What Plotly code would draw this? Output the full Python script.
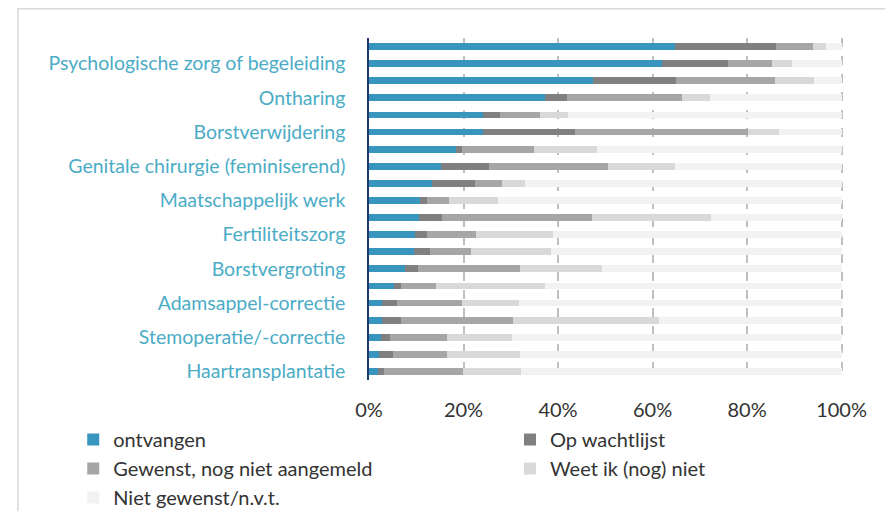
import plotly.graph_objects as go

categories = [
    "", "Psychologische zorg of begeleiding",
    "", "Ontharing",
    "", "Borstverwijdering",
    "", "Genitale chirurgie (feminiserend)",
    "", "Maatschappelijk werk",
    "", "Fertiliteitszorg",
    "", "Borstvergroting",
    "", "Adamsappel-correctie",
    "", "Stemoperatie/-correctie",
    "", "Haartransplantatie",
]

ontvangen = [64.7, 62.1, 47.3, 37.3, 24.2, 24.2, 18.4, 15.3, 13.4, 10.8,
             10.6, 9.8, 9.6, 7.6, 5.3, 2.8, 2.7, 2.5, 2.2, 1.9]
wachtlijst = [21.4, 13.8, 17.7, 4.5, 3.5, 19.3, 1.2, 10.0, 9.0, 1.4,
              4.9, 2.4, 3.3, 2.7, 1.4, 3.1, 4.1, 1.9, 2.9, 1.3]
gewenst = [7.8, 9.3, 20.9, 24.4, 8.4, 36.7, 15.4, 25.3, 5.7, 4.7,
           31.6, 10.5, 8.6, 21.6, 7.4, 13.7, 23.6, 12.0, 11.3, 16.6]
weetniet = [2.9, 4.3, 8.2, 6.0, 6.1, 6.5, 13.3, 14.2, 5.0, 10.3,
            25.2, 16.3, 17.1, 17.5, 23.2, 12.1, 31.0, 13.8, 15.5, 12.3]
nietgewenst = [3.2, 10.5, 5.9, 27.8, 57.8, 13.3, 51.7, 35.2, 66.9, 72.8,
               27.7, 61.0, 61.4, 50.6, 62.7, 68.3, 38.6, 69.8, 68.1, 67.9]

series_names = ["ontvangen", "Op wachtlijst", "Gewenst, nog niet aangemeld",
                "Weet ik (nog) niet", "Niet gewenst/n.v.t."]
series_values = [ontvangen, wachtlijst, gewenst, weetniet, nietgewenst]
colors = ["#3795BE", "#808080", "#A6A6A6", "#D9D9D9", "#F2F2F2"]
legend_column = ["legend", "legend2", "legend", "legend2", "legend"]

x_ticks = [0, 20, 40, 60, 80, 100]
x_ticklabels = ["0%", "20%", "40%", "60%", "80%", "100%"]

positions = list(range(len(categories)))

fig = go.Figure()
for name, vals, col, lg in zip(series_names, series_values, colors, legend_column):
    fig.add_trace(go.Bar(
        y=positions, x=vals, name=name, orientation="h", legend=lg,
        marker=dict(color=col, line=dict(width=0)),
    ))

label_pos = [p for p, c in zip(positions, categories) if c]
label_txt = [c for c in categories if c]

font_family = "Lato, 'Open Sans', sans-serif"
legend_font = dict(size=20, color="#333333", family=font_family)

fig.update_layout(
    barmode="stack",
    bargap=0.6,
    width=893, height=511,
    margin=dict(l=361, r=58, t=30, b=139, autoexpand=False),
    paper_bgcolor="white",
    plot_bgcolor="white",
    font=dict(family=font_family, color="#333333"),
    xaxis=dict(
        range=[0, 100.3], tickvals=x_ticks, ticktext=x_ticklabels,
        showgrid=True, gridcolor="#BFBFBF", griddash="dash", gridwidth=1.5,
        zeroline=False, showline=False,
        tickfont=dict(size=20, color="#333333"),
        ticklabelstandoff=16, automargin=False,
    ),
    yaxis=dict(
        range=[19.5, -0.5], tickmode="array", tickvals=label_pos, ticktext=label_txt,
        showgrid=False, zeroline=False,
        showline=True, linecolor="#1F3A70", linewidth=1.5,
        tickfont=dict(size=19.5, color="#4BACC6"),
        ticklabelstandoff=18, automargin=False,
    ),
    legend=dict(
        orientation="v", xref="paper", yref="paper",
        x=-0.624, y=-0.117, xanchor="left", yanchor="top",
        font=legend_font, bgcolor="rgba(0,0,0,0)", tracegroupgap=0,
        traceorder="normal",
    ),
    legend2=dict(
        orientation="v", xref="paper", yref="paper",
        x=0.2975, y=-0.117, xanchor="left", yanchor="top",
        font=legend_font, bgcolor="rgba(0,0,0,0)", tracegroupgap=0,
        traceorder="normal",
    ),
    shapes=[dict(type="rect", xref="paper", yref="paper",
                 x0=-351 / 474, x1=1.3, y0=-0.6, y1=371.2 / 342,
                 line=dict(color="#D9D9D9", width=1.5), layer="below")],
)

fig.write_html("out.html")
